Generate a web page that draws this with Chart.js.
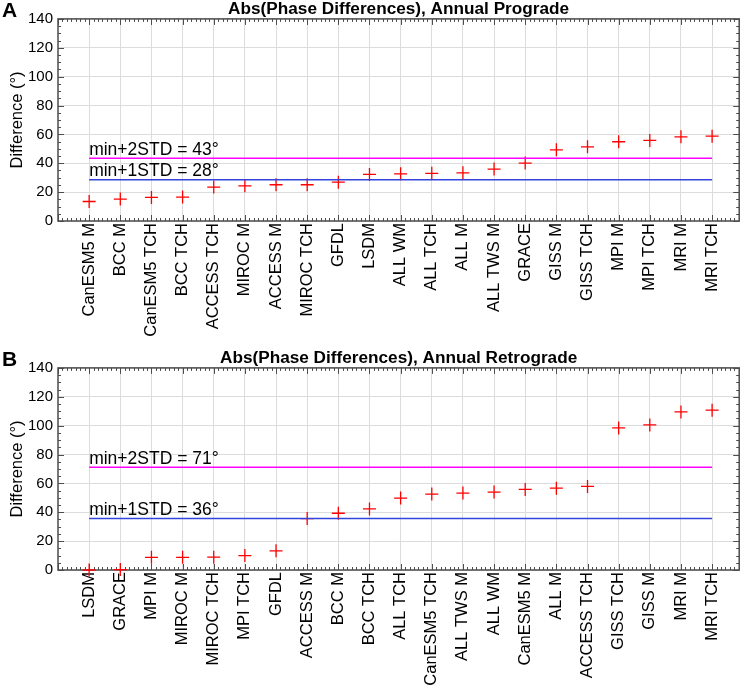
<!DOCTYPE html>
<html>
<head>
<meta charset="utf-8">
<script src="https://cdn.jsdelivr.net/npm/chart.js@4.4.1/dist/chart.umd.min.js"></script>
<style>
  body { margin: 0; background: #fff; }
  canvas { display: block; }
</style>
</head>
<body>
<canvas id="progradeChart" width="747" height="349"></canvas>
<canvas id="retrogradeChart" width="747" height="336"></canvas>
<script>
// panel A: annual prograde
const progradeLabels = ['CanESM5 M', 'BCC M', 'CanESM5 TCH', 'BCC TCH', 'ACCESS TCH', 'MIROC M',
  'ACCESS M', 'MIROC TCH', 'GFDL', 'LSDM', 'ALL WM', 'ALL TCH', 'ALL M', 'ALL TWS M', 'GRACE',
  'GISS M', 'GISS TCH', 'MPI M', 'MPI TCH', 'MRI M', 'MRI TCH'];
const progradeValues = [13.5, 15.2, 16.3, 16.6, 23.5, 24.4, 25.1, 25.1, 26.9, 32.3, 32.7,
  33.0, 33.4, 36.0, 40.1, 49.3, 51.4, 54.9, 55.8, 58.3, 58.8];
const progradeLimits = [43.4, 28.5];
const progradeLimitTexts = ['min+2STD = 43°', 'min+1STD = 28°'];

// panel B: annual retrograde
const retrogradeLabels = ['LSDM', 'GRACE', 'MPI M', 'MIROC M', 'MIROC TCH', 'MPI TCH', 'GFDL',
  'ACCESS M', 'BCC M', 'BCC TCH', 'ALL TCH', 'CanESM5 TCH', 'ALL TWS M', 'ALL WM', 'CanESM5 M',
  'ALL M', 'ACCESS TCH', 'GISS TCH', 'GISS M', 'MRI M', 'MRI TCH'];
const retrogradeValues = [0.0, 0.3, 8.8, 8.8, 8.9, 10.0, 13.3, 35.6, 39.3, 42.3, 49.8,
  52.6, 53.3, 54.0, 55.8, 56.7, 57.9, 98.4, 100.5, 109.5, 110.7];
const retrogradeLimits = [71.1, 35.6];
const retrogradeLimitTexts = ['min+2STD = 71°', 'min+1STD = 36°'];

const yTicks = [0, 20, 40, 60, 80, 100, 120, 140];
const limitColors = ['#ff00ff', '#3344dd'];

Chart.defaults.font.family = "'Liberation Sans', Arial, sans-serif";
Chart.defaults.color = '#000';

// box round the plot with inward major/minor ticks on all four sides
const framePlugin = {
  id: 'frame',
  beforeDatasetsDraw(chart) {
    const { ctx, chartArea: a, scales: { x, y } } = chart;
    ctx.save();
    ctx.strokeStyle = '#4d4d4d';
    ctx.lineWidth = 1;
    ctx.beginPath();
    for (let k = 0; k / 7 <= x.max; k++) {
      const px = Math.round(x.getPixelForValue(k / 7)) + 0.5;
      const len = k % 7 === 0 ? 6 : 3;
      ctx.moveTo(px, a.bottom); ctx.lineTo(px, a.bottom - len);
      ctx.moveTo(px, a.top); ctx.lineTo(px, a.top + len);
    }
    for (let v = 0; v <= y.max; v += 5) {
      const py = Math.round(y.getPixelForValue(v)) + 0.5;
      const len = v % 20 === 0 ? 6 : 3;
      ctx.moveTo(a.left, py); ctx.lineTo(a.left + len, py);
      ctx.moveTo(a.right, py); ctx.lineTo(a.right - len, py);
    }
    ctx.stroke();
    ctx.lineWidth = 1.5;
    ctx.strokeRect(a.left, a.top, a.right - a.left, a.bottom - a.top);
    ctx.restore();
  }
};

const limitTextPlugin = {
  id: 'limitText',
  afterDatasetsDraw(chart, args, opts) {
    const { ctx, scales: { x, y } } = chart;
    ctx.save();
    ctx.font = "17.5px 'Liberation Sans', Arial, sans-serif";
    ctx.fillStyle = '#000';
    ctx.textBaseline = 'alphabetic';
    opts.limits.forEach((v, i) => {
      ctx.fillText(opts.texts[i], x.getPixelForValue(1), y.getPixelForValue(v) - 3.5);
    });
    ctx.restore();
  }
};

const letterPlugin = {
  id: 'panelLetter',
  afterDraw(chart, args, opts) {
    const ctx = chart.ctx;
    ctx.save();
    ctx.font = "bold 21px 'Liberation Sans', Arial, sans-serif";
    ctx.fillStyle = '#000';
    ctx.textBaseline = 'middle';
    ctx.fillText(opts.letter, 2, 11);
    ctx.restore();
  }
};

function makeChart(id, letter, title, labels, values, limits, limitTexts, xHeight) {
  const limitSets = limits.map((v, i) => ({
    type: 'line',
    data: [{ x: 1, y: v }, { x: labels.length, y: v }],
    borderColor: limitColors[i],
    borderWidth: 1.5,
    pointRadius: 0,
    fill: false
  }));
  return new Chart(document.getElementById(id).getContext('2d'), {
    type: 'scatter',
    data: {
      datasets: limitSets.concat([{
        data: values.map((v, i) => ({ x: i + 1, y: v })),
        pointStyle: 'cross',
        pointRadius: 6.5,
        borderColor: '#ff0000',
        backgroundColor: '#ff0000',
        borderWidth: 1.3,
        clip: false
      }])
    },
    options: {
      responsive: false,
      animation: false,
      layout: { padding: { left: 0, right: 7, top: 0, bottom: 0 } },
      plugins: {
        legend: { display: false },
        tooltip: { enabled: false },
        title: {
          display: true,
          text: title,
          fullSize: false,
          color: '#000',
          font: { size: 17.2, weight: 'bold', lineHeight: 1.1 },
          padding: { top: 0, bottom: 0 }
        },
        limitText: { limits: limits, texts: limitTexts },
        panelLetter: { letter: letter }
      },
      scales: {
        x: {
          type: 'linear',
          bounds: 'data',
          min: 0,
          max: 21.87,
          afterBuildTicks: (s) => { s.ticks = labels.map((_, i) => ({ value: i + 1 })); },
          afterFit: (s) => { s.height = xHeight; },
          ticks: {
            autoSkip: false,
            minRotation: 90,
            maxRotation: 90,
            padding: 2,
            color: '#000',
            font: { size: 16.5 },
            callback: (v) => labels[v - 1]
          },
          grid: { color: '#dcdcdc', drawTicks: false },
          border: { display: false }
        },
        y: {
          min: 0,
          max: 140,
          afterBuildTicks: (s) => { s.ticks = yTicks.map(v => ({ value: v })); },
          afterFit: (s) => { s.width = 58; },
          ticks: { padding: 5, color: '#000', font: { size: 15 } },
          grid: { color: '#dcdcdc', drawTicks: false },
          border: { display: false },
          title: {
            display: true,
            text: 'Difference (°)',
            color: '#000',
            font: { size: 16.5 },
            padding: { top: 8, bottom: 0 }
          }
        }
      }
    },
    plugins: [framePlugin, limitTextPlugin, letterPlugin]
  });
}

makeChart('progradeChart', 'A', 'Abs(Phase Differences), Annual Prograde',
  progradeLabels, progradeValues, progradeLimits, progradeLimitTexts, 128);
makeChart('retrogradeChart', 'B', 'Abs(Phase Differences), Annual Retrograde',
  retrogradeLabels, retrogradeValues, retrogradeLimits, retrogradeLimitTexts, 115);
</script>
</body>
</html>
